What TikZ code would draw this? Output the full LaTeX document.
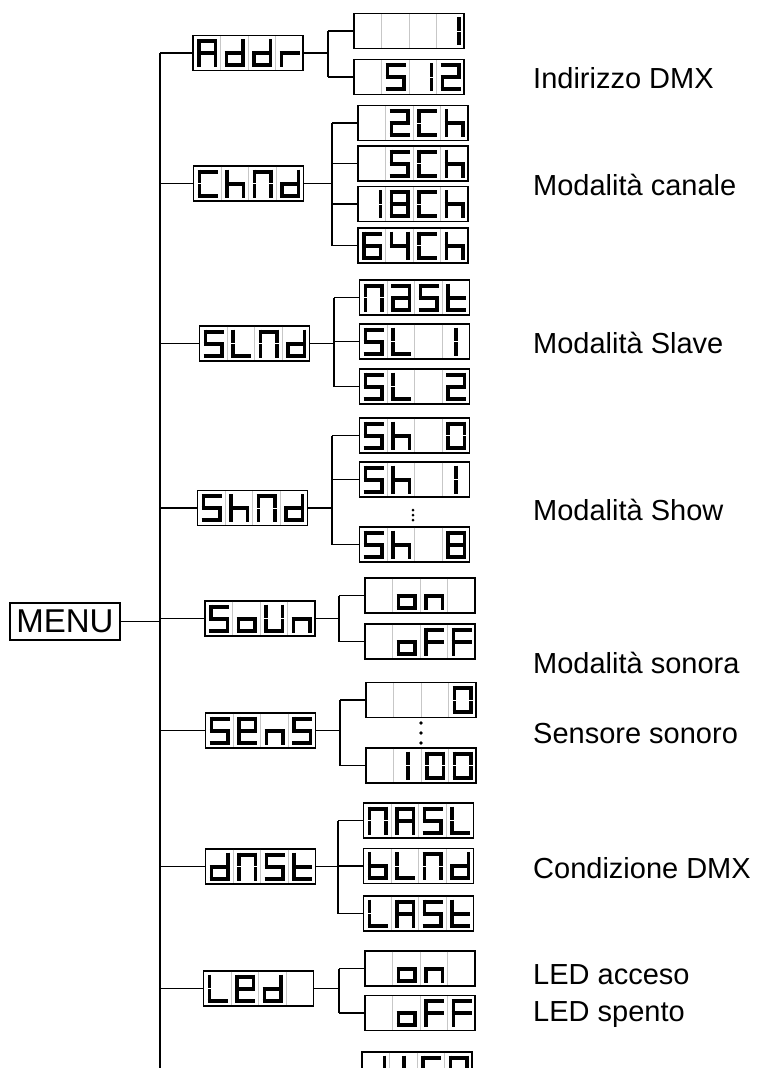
\documentclass[tikz,border=0pt]{standalone}
\usepackage{fontspec}
\setmainfont{Liberation Sans}
\usetikzlibrary{calc}

\tikzset{
  ledseg/.style={line width=3.9pt, line cap=butt},
  ledbox/.style={draw, line width=1.4pt, minimum width=110pt, minimum height=35pt, inner sep=0pt, outer sep=0pt},
  celldiv/.style={draw=black!22, line width=0.8pt},
  wire/.style={line width=1.5pt},
  lbl/.style={anchor=base west, inner sep=0pt, font=\fontsize{29}{33}\selectfont},
}

% seven segments of one cell (27.5 x 35, y downwards)
\newcommand\segA{\draw[ledseg] (4.1,5.6) -- (24.4,5.6);}
\newcommand\segB{\draw[ledseg] (22.5,3.7) -- (22.5,17.1);}
\newcommand\segC{\draw[ledseg] (22.5,18.4) -- (22.5,31.8);}
\newcommand\segD{\draw[ledseg] (4.1,29.9) -- (24.4,29.9);}
\newcommand\segE{\draw[ledseg] (6,18.4) -- (6,31.8);}
\newcommand\segF{\draw[ledseg] (6,3.7) -- (6,17.1);}
\newcommand\segG{\draw[ledseg] (4.1,17.75) -- (24.4,17.75);}
\newcommand\segI{\draw[ledseg] (14.3,3.7) -- (14.3,17.1) (14.3,18.4) -- (14.3,31.8);}

\newcommand\defled[2]{\expandafter\def\csname led@#1\endcsname{#2}}
\defled{-}{}
\defled{A}{\segA\segB\segC\segE\segF\segG}
\defled{a}{\segA\segB\segC\segD\segE\segG}
\defled{b}{\segC\segD\segE\segF\segG}
\defled{C}{\segA\segD\segE\segF}
\defled{d}{\segB\segC\segD\segE\segG}
\defled{e}{\segA\segB\segD\segE\segF\segG}
\defled{F}{\segA\segE\segF\segG}
\defled{h}{\segC\segE\segF\segG}
\defled{I}{\segI}
\defled{L}{\segD\segE\segF}
\defled{N}{\segA\segB\segC\segE\segF}
\defled{n}{\segC\segE\segG}
\defled{o}{\segC\segD\segE\segG}
\defled{P}{\segA\segB\segE\segF\segG}
\defled{r}{\segE\segG}
\defled{S}{\segA\segC\segD\segF\segG}
\defled{t}{\segD\segE\segF\segG}
\defled{U}{\segB\segC\segD\segE\segF}
\defled{0}{\segA\segB\segC\segD\segE\segF}
\defled{1}{\segB\segC}
\defled{2}{\segA\segB\segD\segE\segG}
\defled{4}{\segB\segC\segF\segG}
\defled{5}{\segA\segC\segD\segF\segG}
\defled{6}{\segA\segC\segD\segE\segF\segG}
\defled{8}{\segA\segB\segC\segD\segE\segF\segG}

% four cells of a display node
\newcommand\ledshow[2]{%
  \edef\ledlist{#2}%
  \foreach \ch [count=\i] in \ledlist {
    \begin{scope}[shift={(#1.north west)}, xshift={(\i-1)*27.5pt}]
      \ifnum\i>1 \draw[celldiv] (0,0.7) -- (0,34.3);\fi
      \csname led@\ch\endcsname
    \end{scope}
  }%
}

\begin{document}
\begin{tikzpicture}[x=1pt, y=-1pt]
  \useasboundingbox (0,0) rectangle (756,1068);
  \clip (0,0) rectangle (756,1068);

  % root and trunk
  \node[draw, line width=1.4pt, minimum width=110pt, minimum height=37pt, inner sep=0pt, font=\fontsize{33}{36}\selectfont] (menu) at (65,621.5) {MENU};
  \coordinate (trunk) at (160,53);
  \draw[wire] (trunk) -- (160,1090);
  \draw[wire] (menu.east) -- (menu.east -| trunk);

  % first level
  \foreach \n/\x/\y/\txt in {addr/248/53/{A,d,d,r}, chnd/248.5/183.5/{C,h,N,d}, slnd/254.5/343.5/{S,L,N,d},
      shnd/252.5/508/{S,h,N,d}, soun/260/618.5/{S,o,U,n}, sens/260.5/730.5/{S,e,n,S},
      dnst/260.5/866.5/{d,N,S,t}, led/258.5/988.5/{L,e,d,-}} {
    \node[ledbox] (\n) at (\x,\y) {};
    \ledshow{\n}{\txt}
    \draw[wire] (\n.west) -- (\n.west -| trunk);
  }

  % Addr
  \coordinate (addrj) at (328,53);
  \foreach \n/\y/\txt in {addrA/31/{-,-,-,1}, addrB/77/{-,5,1,2}} {
    \node[ledbox] (\n) at (409,\y) {};
    \ledshow{\n}{\txt}
    \draw[wire] (\n.west) -- (\n.west -| addrj);
  }
  \draw[wire] (addr.east) -- (addrj);
  \draw[wire] (addrA.west -| addrj) -- (addrB.west -| addrj);

  % ChNd
  \coordinate (chndj) at (332,183.5);
  \foreach \n/\y/\txt in {chndA/123/{-,2,C,h}, chndB/163.5/{-,5,C,h}, chndC/204/{1,8,C,h}, chndD/245.5/{6,4,C,h}} {
    \node[ledbox] (\n) at (413,\y) {};
    \ledshow{\n}{\txt}
    \draw[wire] (\n.west) -- (\n.west -| chndj);
  }
  \draw[wire] (chnd.east) -- (chndj);
  \draw[wire] (chndA.west -| chndj) -- (chndD.west -| chndj);

  % SLNd
  \coordinate (slndj) at (334,343.5);
  \foreach \n/\y/\txt in {slndA/297.5/{N,a,S,t}, slndB/341.5/{S,L,-,I}, slndC/386.5/{S,L,-,2}} {
    \node[ledbox] (\n) at (414.5,\y) {};
    \ledshow{\n}{\txt}
    \draw[wire] (\n.west) -- (\n.west -| slndj);
  }
  \draw[wire] (slnd.east) -- (slndj);
  \draw[wire] (slndA.west -| slndj) -- (slndC.west -| slndj);

  % ShNd
  \coordinate (shndj) at (332,508);
  \foreach \n/\y/\txt in {shndA/435.5/{S,h,-,0}, shndB/479.5/{S,h,-,I}, shndC/544.5/{S,h,-,8}} {
    \node[ledbox] (\n) at (414.5,\y) {};
    \ledshow{\n}{\txt}
    \draw[wire] (\n.west) -- (\n.west -| shndj);
  }
  \draw[wire] (shnd.east) -- (shndj);
  \draw[wire] (shndA.west -| shndj) -- (shndC.west -| shndj);
  \foreach \y in {510,515,520} \fill (413,\y) circle (1.5);

  % SoUn
  \coordinate (sounj) at (339,618.5);
  \foreach \n/\y/\txt in {sounA/595.5/{-,o,n,-}, sounB/641.5/{-,o,F,F}} {
    \node[ledbox] (\n) at (420,\y) {};
    \ledshow{\n}{\txt}
    \draw[wire] (\n.west) -- (\n.west -| sounj);
  }
  \draw[wire] (soun.east) -- (sounj);
  \draw[wire] (sounA.west -| sounj) -- (sounB.west -| sounj);

  % SEnS
  \coordinate (sensj) at (340,730.5);
  \foreach \n/\y/\txt in {sensA/700/{-,-,-,0}, sensB/765.5/{-,I,0,0}} {
    \node[ledbox] (\n) at (421,\y) {};
    \ledshow{\n}{\txt}
    \draw[wire] (\n.west) -- (\n.west -| sensj);
  }
  \draw[wire] (sens.east) -- (sensj);
  \draw[wire] (sensA.west -| sensj) -- (sensB.west -| sensj);
  \foreach \y in {723,733,743} \fill (421,\y) circle (1.9);

  % dNSt
  \coordinate (dnstj) at (338,866.5);
  \foreach \n/\y/\txt in {dnstA/820.5/{N,A,S,L}, dnstB/866/{b,L,N,d}, dnstC/913.5/{L,A,S,t}} {
    \node[ledbox] (\n) at (418.5,\y) {};
    \ledshow{\n}{\txt}
    \draw[wire] (\n.west) -- (\n.west -| dnstj);
  }
  \draw[wire] (dnst.east) -- (dnstj);
  \draw[wire] (dnstA.west -| dnstj) -- (dnstC.west -| dnstj);

  % LEd
  \coordinate (ledj) at (339,988.5);
  \foreach \n/\y/\txt in {ledA/968.5/{-,o,n,-}, ledB/1013/{-,o,F,F}} {
    \node[ledbox] (\n) at (420,\y) {};
    \ledshow{\n}{\txt}
    \draw[wire] (\n.west) -- (\n.west -| ledj);
  }
  \draw[wire] (led.east) -- (ledj);
  \draw[wire] (ledA.west -| ledj) -- (ledB.west -| ledj);

  % next group, cut by the page edge
  \coordinate (dispj) at (336,1069.5);
  \node[ledbox] (dispA) at (417,1069.5) {};
  \ledshow{dispA}{d,I,S,P}
  \draw[wire] (dispA.west) -- (dispj) -- ++(0,30);

  % labels
  \foreach \n/\y/\txt in {lAddr/88/Indirizzo DMX, lChnd/195/Modalità canale, lSlnd/353/Modalità Slave,
      lShnd/520/Modalità Show, lSoun/673/Modalità sonora, lSens/743/Sensore sonoro,
      lDnst/878/Condizione DMX, lLedA/984/LED acceso, lLedB/1021/LED spento}
    \node[lbl] (\n) at (533,\y) {\txt};
\end{tikzpicture}
\end{document}
